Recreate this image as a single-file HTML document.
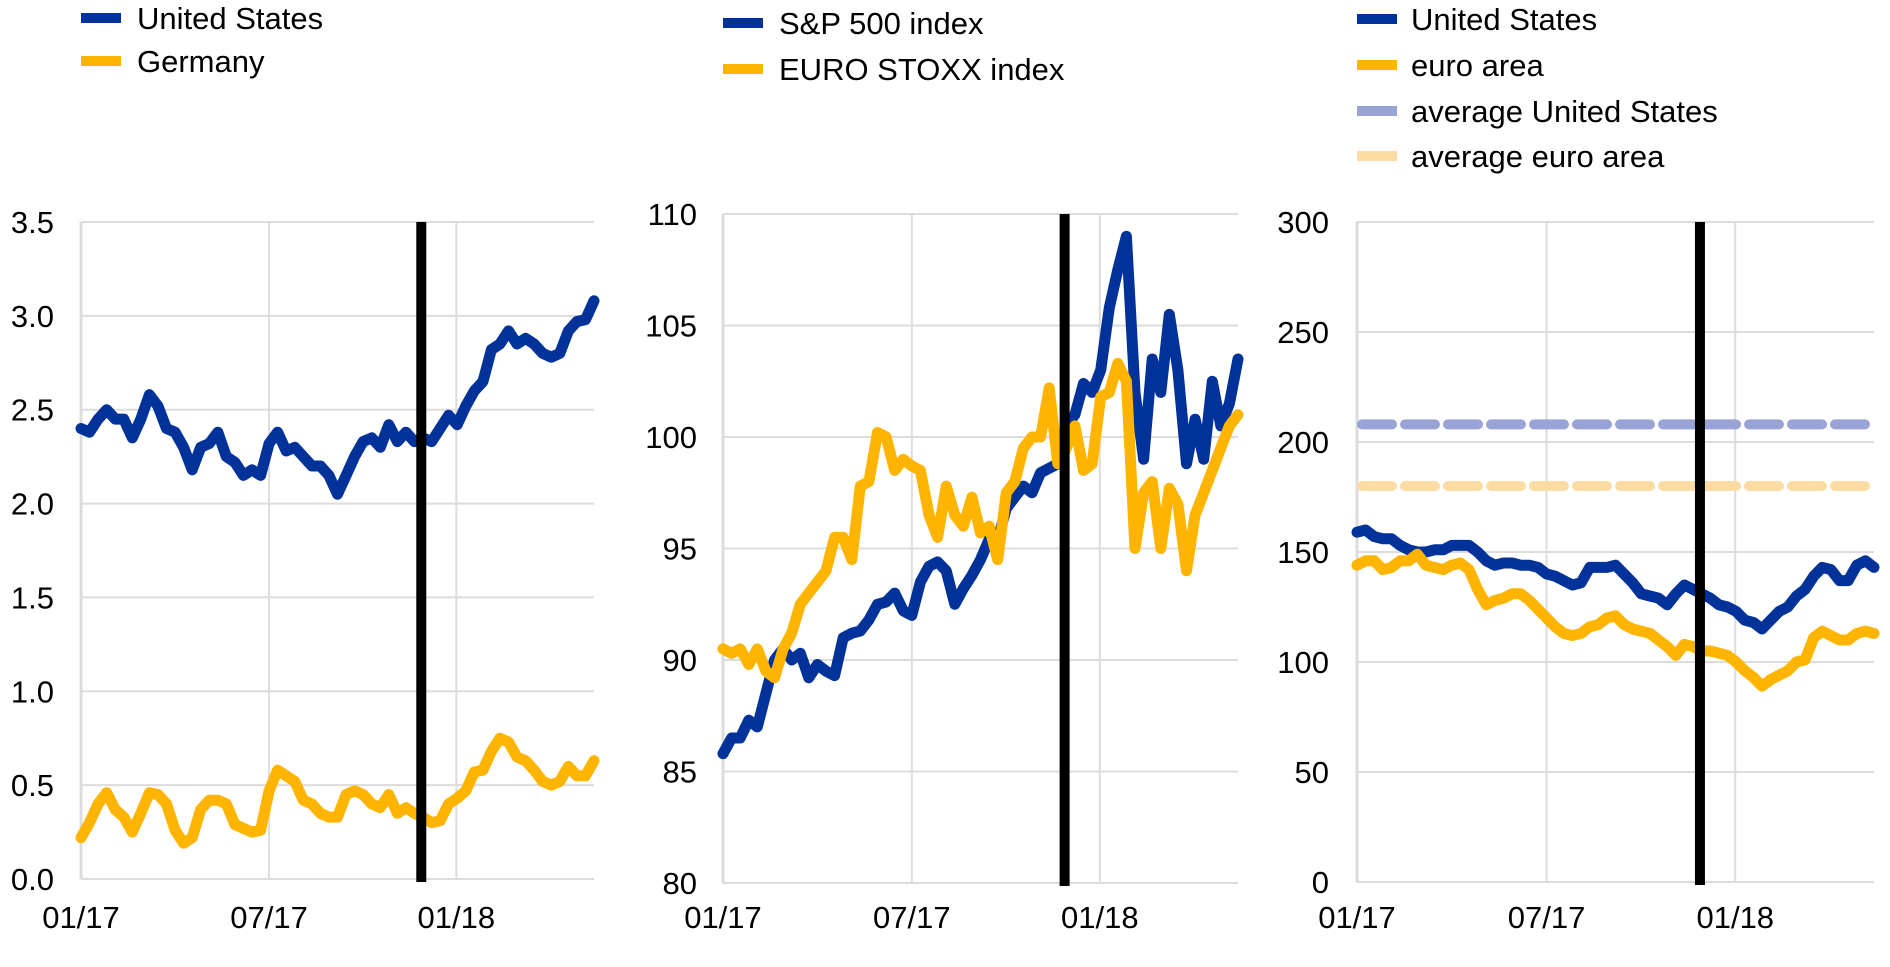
<!DOCTYPE html>
<html><head><meta charset="utf-8"><style>
html,body{margin:0;padding:0;background:#fff;}
svg{display:block;font-family:"Liberation Sans",Arial,sans-serif;}
</style></head><body>
<svg id="c" width="1890" height="967" viewBox="0 0 1890 967"></svg>
<script>
const xTickLabels = ["01/17","07/17","01/18"];
const xTickIdx = [0, 22, 43.9];
const markerIdx = 39.8;

const c1Ticks = [0,0.5,1,1.5,2,2.5,3,3.5];
const c1Names = ["United States","Germany"];
const c1US = [2.40,2.38,2.45,2.50,2.45,2.45,2.35,2.45,2.58,2.52,2.40,2.38,2.30,2.18,2.30,2.32,2.38,2.25,2.22,2.15,2.18,2.15,2.32,2.38,2.28,2.30,2.25,2.20,2.20,2.15,2.05,2.15,2.25,2.33,2.35,2.30,2.42,2.33,2.38,2.33,2.35,2.33,2.40,2.47,2.42,2.52,2.60,2.65,2.82,2.85,2.92,2.85,2.88,2.85,2.80,2.78,2.80,2.92,2.97,2.98,3.08];
const c1DE = [0.22,0.30,0.40,0.46,0.37,0.33,0.25,0.35,0.46,0.45,0.40,0.26,0.19,0.22,0.37,0.42,0.42,0.40,0.29,0.27,0.25,0.26,0.47,0.58,0.55,0.52,0.42,0.40,0.35,0.33,0.33,0.45,0.47,0.45,0.40,0.38,0.45,0.35,0.38,0.35,0.33,0.30,0.31,0.40,0.43,0.47,0.57,0.58,0.68,0.75,0.73,0.65,0.63,0.58,0.52,0.50,0.52,0.60,0.55,0.55,0.63];

const c2Ticks = [80,85,90,95,100,105,110];
const c2Names = ["S&P 500 index","EURO STOXX index"];
const c2SP = [85.8,86.5,86.5,87.3,87,88.5,90,90.5,90,90.3,89.2,89.8,89.5,89.3,91,91.2,91.3,91.8,92.5,92.6,93,92.2,92,93.5,94.2,94.4,94,92.5,93.2,93.8,94.5,95.4,95.4,96.8,97.3,97.8,97.5,98.4,98.6,98.8,100.5,101,102.4,102,103,105.8,107.5,109,102,99,103.5,102,105.5,103,98.8,100.8,99,102.5,100.5,101.5,103.5];
const c2SX = [90.5,90.3,90.5,89.8,90.5,89.5,89.2,90.5,91.2,92.5,93,93.5,94,95.5,95.5,94.5,97.8,98,100.2,100,98.5,99,98.7,98.5,96.5,95.5,97.8,96.5,96,97.3,95.7,96,94.5,97.5,98,99.5,100,100,102.2,98.8,99.5,100.5,98.5,98.8,101.8,102,103.3,102.5,95,97.5,98,95,97.7,97,94,96.5,97.5,98.5,99.5,100.5,101];

const c3Ticks = [0,50,100,150,200,250,300];
const c3Names = ["United States","euro area","average United States","average euro area"];
const c3US = [159,160,157,156,156,153,151,150,150,151,151,153,153,153,150,146,144,145,145,144,144,143,140,139,137,135,136,143,143,143,144,140,136,131,130,129,126,131,135,133,131,129,126,125,123,119,118,115,119,123,125,130,133,139,143,142,137,137,144,146,143];
const c3EA = [144,146,146,142,143,146,146,149,144,143,142,144,145,142,133,126,128,129,131,131,128,124,120,116,113,112,113,116,117,120,121,117,115,114,113,110,107,103,108,107,105,105,104,103,100,96,93,89,92,94,96,100,101,111,114,112,110,110,113,114,113];
const c3AvgUS = 208;
const c3AvgEA = 180;

const BLUE="#003299", YEL="#ffb400", LBLUE="#99a3d6", LYEL="#fddca4";
const NS="http://www.w3.org/2000/svg";
const svg=document.getElementById('c');
function mk(tag,attrs,parent){const e=document.createElementNS(NS,tag);for(const k in attrs)e.setAttribute(k,attrs[k]);(parent||svg).appendChild(e);return e;}

function panel(p){
  const g=mk('g',{});
  
  
  const N=61;
  const xs=i=>p.l+(p.r-p.l)*i/(N-1);
  const ys=v=>p.b-(p.b-p.t)*(v-p.ticks[0])/(p.ticks[p.ticks.length-1]-p.ticks[0]);
  p.ticks.forEach(v=>{
    const ln=mk('line',{x1:p.l,x2:p.r,y1:ys(v),y2:ys(v),stroke:'#dcdcdc','stroke-width':2},g);
    
    
    const t=mk('text',{x:p.lblX,y:ys(v)+11,'text-anchor':'end','font-size':31,fill:'#000'},g);
    t.textContent=p.fmt(v);
    
    
  });
  xTickIdx.forEach((ix,k)=>{
    const x=xs(ix);
    const ln=mk('line',{x1:x,x2:x,y1:p.t,y2:p.b,stroke:'#dcdcdc','stroke-width':k==0?3:2},g);
    
    
    const t=mk('text',{x:x,y:928,'text-anchor':'middle','font-size':31,fill:'#000'},g);
    t.textContent=xTickLabels[k];
    
    
  });
  (p.hlines||[]).forEach(h=>{
    const ln=mk('line',{x1:p.l+5,x2:p.r-5,y1:ys(h.v),y2:ys(h.v),stroke:h.c,'stroke-width':10,'stroke-dasharray':'30 13','stroke-linecap':'round'},g);
    
    
  });
  p.series.forEach(s=>{
    const d=s.data.map((v,i)=>(i?'L':'M')+xs(i).toFixed(1)+' '+ys(v).toFixed(1)).join(' ');
    const pa=mk('path',{d:d,fill:'none',stroke:s.c,'stroke-width':11,'stroke-linejoin':'round','stroke-linecap':'round'},g);
    
    
  });
  const mx=xs(markerIdx);
  const m=mk('line',{x1:mx,x2:mx,y1:p.t,y2:p.b+3,stroke:'#000','stroke-width':10},g);
  
  
  p.legend.forEach((L,k)=>{
    const y=p.legY[k];
    const r=mk('rect',{x:p.l,y:y-5,width:40,height:10,fill:L.c},g);
    
    
    const t=mk('text',{x:p.legX,y:y+11,'font-size':31,fill:'#000'},g);
    t.textContent=L.t;
    
    
  });
}

panel({name:'yields-panel',l:81,r:594,t:222,b:879,lblX:54,ticks:c1Ticks,fmt:v=>v.toFixed(1),
  series:[{data:c1US,c:BLUE,name:'line-united-states'},{data:c1DE,c:YEL,name:'line-germany'}],
  legend:[{t:c1Names[0],c:BLUE},{t:c1Names[1],c:YEL}],legY:[18,61],legX:137});
panel({name:'equity-panel',l:723,r:1238,t:214,b:883,lblX:697,ticks:c2Ticks,fmt:v=>String(v),
  series:[{data:c2SP,c:BLUE,name:'line-sp500'},{data:c2SX,c:YEL,name:'line-eurostoxx'}],
  legend:[{t:c2Names[0],c:BLUE},{t:c2Names[1],c:YEL}],legY:[23,69],legX:779});
panel({name:'spread-panel',l:1357,r:1874,t:222,b:882,lblX:1329,ticks:c3Ticks,fmt:v=>String(v),
  hlines:[{v:c3AvgUS,c:LBLUE,name:'average-us-line'},{v:c3AvgEA,c:LYEL,name:'average-euro-line'}],
  series:[{data:c3US,c:BLUE,name:'line-us-spread'},{data:c3EA,c:YEL,name:'line-euro-spread'}],
  legend:[{t:c3Names[0],c:BLUE},{t:c3Names[1],c:YEL},{t:c3Names[2],c:LBLUE},{t:c3Names[3],c:LYEL}],legY:[19,65,111,156],legX:1411});
</script>
</body></html>
